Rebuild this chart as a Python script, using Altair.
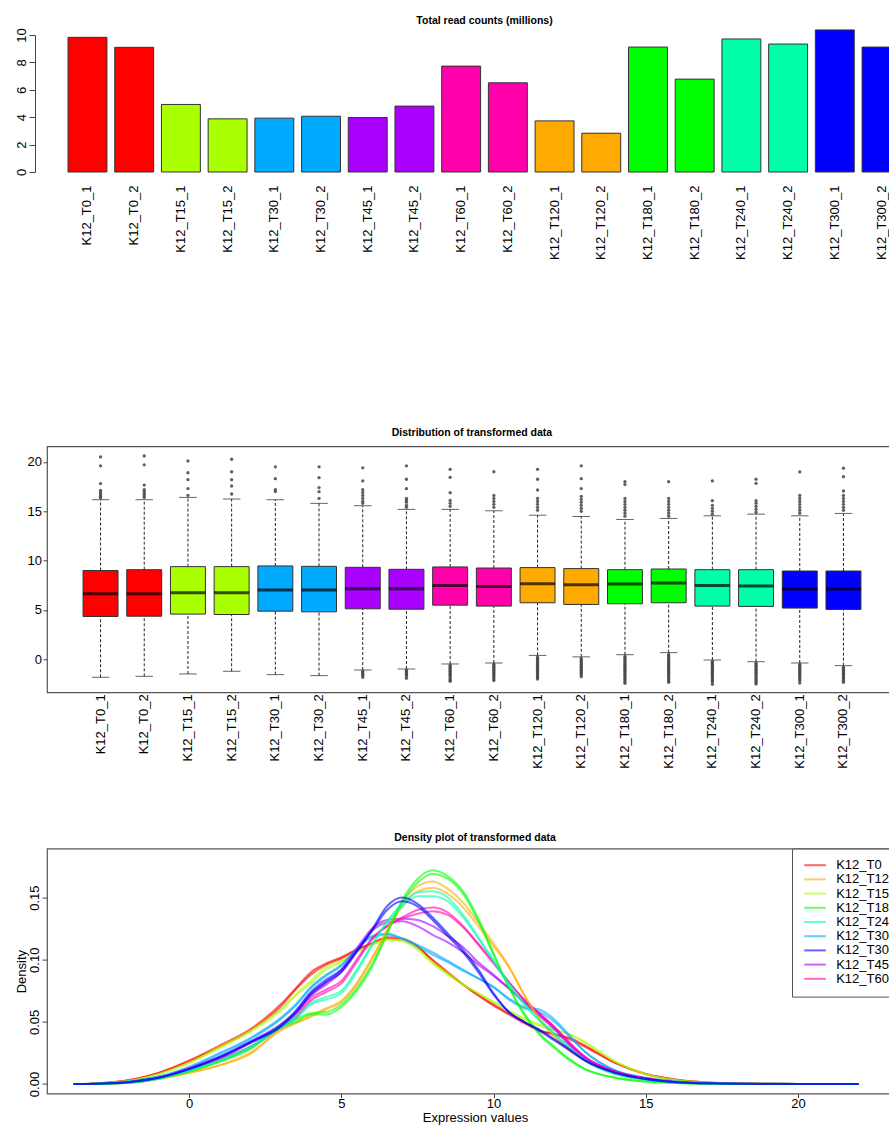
import altair as alt
import pandas as pd

FONT = "Liberation Sans"

samples = ["K12_T0_1", "K12_T0_2", "K12_T15_1", "K12_T15_2", "K12_T30_1", "K12_T30_2",
           "K12_T45_1", "K12_T45_2", "K12_T60_1", "K12_T60_2", "K12_T120_1", "K12_T120_2",
           "K12_T180_1", "K12_T180_2", "K12_T240_1", "K12_T240_2", "K12_T300_1", "K12_T300_2"]
sample_groups = ["K12_T0", "K12_T0", "K12_T15", "K12_T15", "K12_T30", "K12_T30",
                 "K12_T45", "K12_T45", "K12_T60", "K12_T60", "K12_T120", "K12_T120",
                 "K12_T180", "K12_T180", "K12_T240", "K12_T240", "K12_T300", "K12_T300"]
group_names = ["K12_T0", "K12_T120", "K12_T15", "K12_T180", "K12_T240",
               "K12_T30", "K12_T300", "K12_T45", "K12_T60"]
group_colors = ["#FF0000", "#FFAA00", "#AAFF00", "#00FF00", "#00FFAA",
                "#00AAFF", "#0000FF", "#AA00FF", "#FF00AA"]

# Panel 1: total read counts (millions)
read_counts = [9.83, 9.10, 4.93, 3.88, 3.93, 4.07, 3.98, 4.81, 7.73, 6.51,
               3.73, 2.83, 9.12, 6.78, 9.71, 9.34, 10.37, 9.12]

# Panel 2: boxplot statistics
box_q1 = [4.34, 4.37, 4.58, 4.54, 4.88, 4.81, 5.12, 5.08, 5.49, 5.39,
          5.73, 5.56, 5.63, 5.73, 5.39, 5.36, 5.19, 5.05]
box_median = [6.64, 6.64, 6.75, 6.75, 7.02, 7.02, 7.15, 7.15, 7.49, 7.39,
              7.66, 7.56, 7.63, 7.73, 7.49, 7.42, 7.12, 7.12]
box_q3 = [9.00, 9.08, 9.39, 9.39, 9.46, 9.42, 9.32, 9.12, 9.36, 9.25,
          9.29, 9.19, 9.08, 9.15, 9.08, 9.08, 8.95, 8.95]
box_whisker_low = [-1.82, -1.72, -1.48, -1.21, -1.55, -1.65, -1.08, -0.98, -0.47, -0.37,
                   0.40, 0.25, 0.47, 0.68, -0.07, -0.24, -0.37, -0.64]
box_whisker_high = [16.17, 16.17, 16.40, 16.24, 16.17, 15.80, 15.56, 15.19, 15.19, 15.05,
                    14.60, 14.47, 14.17, 14.27, 14.54, 14.71, 14.54, 14.78]
outliers_high = [
    [20.5, 19.6, 17.8, 17.1, 16.9, 16.7, 16.5, 16.35],
    [20.6, 19.7, 17.65, 17.2, 17.0, 16.8, 16.6, 16.4],
    [20.1, 18.9, 18.2, 17.3, 16.6],
    [20.27, 19.0, 18.2, 17.56, 16.75],
    [19.5, 18.3, 17.2, 17.0],
    [19.5, 18.4, 17.4, 16.98, 16.3],
    [19.4, 18.07, 17.2, 16.9, 16.6, 16.3, 16.0, 15.8],
    [19.6, 18.24, 17.29, 16.3, 16.1, 15.9, 15.6, 15.4],
    [19.25, 18.44, 16.88, 16.1, 15.8, 15.5],
    [19.0, 16.6, 16.3, 16.0, 15.7, 15.4],
    [19.25, 18.24, 17.15, 16.3, 16.0, 15.7, 15.4, 15.1],
    [19.6, 18.3, 17.3, 16.5, 16.2, 15.9, 15.6, 15.3, 15.0],
    [18.0, 17.7, 16.3, 16.0, 15.7, 15.4, 15.1, 14.8, 14.5],
    [18.0, 16.3, 16.0, 15.7, 15.4, 15.1, 14.8, 14.5],
    [18.07, 16.07, 15.6, 15.3, 15.0, 14.7],
    [18.24, 17.83, 16.07, 15.8, 15.5, 15.2, 14.9],
    [18.98, 16.6, 16.3, 16.0, 15.7, 15.4, 15.1, 14.8],
    [19.36, 18.5, 17.05, 16.6, 16.3, 16.0, 15.7, 15.4, 15.1],
]
outliers_low = [
    [], [], [], [], [], [],
    [-1.2, -1.35, -1.5, -1.65, -1.82],
    [-1.1, -1.25, -1.4, -1.55, -1.7, -1.92],
    [-0.6, -0.75, -0.9, -1.05, -1.2, -1.35, -1.5, -1.65, -1.8, -1.95, -2.1, -2.22],
    [-0.5, -0.65, -0.8, -0.95, -1.1, -1.25, -1.4, -1.55, -1.7, -1.85, -2.0, -2.15],
    [0.25, 0.1, -0.05, -0.2, -0.35, -0.5, -0.65, -0.8, -0.95, -1.1, -1.25, -1.4, -1.55, -1.7, -1.85, -1.99],
    [0.1, -0.05, -0.2, -0.35, -0.5, -0.65, -0.8, -0.95, -1.1, -1.25, -1.4, -1.55, -1.76],
    [0.3, 0.15, 0.0, -0.15, -0.3, -0.45, -0.6, -0.75, -0.9, -1.05, -1.2, -1.35, -1.5, -1.65, -1.8, -1.95, -2.1, -2.25, -2.43],
    [0.5, 0.35, 0.2, 0.05, -0.1, -0.25, -0.4, -0.55, -0.7, -0.85, -1.0, -1.15, -1.3, -1.45, -1.6, -1.75, -1.9, -2.05, -2.2, -2.33],
    [-0.2, -0.35, -0.5, -0.65, -0.8, -0.95, -1.1, -1.25, -1.4, -1.55, -1.7, -1.85, -2.0, -2.15, -2.3, -2.53],
    [-0.4, -0.55, -0.7, -0.85, -1.0, -1.15, -1.3, -1.45, -1.6, -1.75, -1.9, -2.05, -2.2, -2.35, -2.5],
    [-0.5, -0.65, -0.8, -0.95, -1.1, -1.25, -1.4, -1.55, -1.7, -1.85, -2.0, -2.15, -2.4],
    [-0.8, -0.95, -1.1, -1.25, -1.4, -1.55, -1.7, -1.85, -2.0, -2.15, -2.33],
]

# Panel 3: density curves
dens_x = [-3.8, -3, -2, -1, 0, 1, 2, 3, 3.5, 4, 4.5, 5, 5.5, 6, 6.5, 7, 7.5, 8, 8.5, 9,
          9.5, 10, 10.5, 11, 11.5, 12, 12.5, 13, 14, 15, 16, 17, 18, 20, 22]
dens_T0_1 = [0, 0.0005, 0.003, 0.009, 0.019, 0.031, 0.044, 0.064, 0.077, 0.090, 0.097, 0.102, 0.108, 0.113, 0.117, 0.116, 0.110, 0.100, 0.090, 0.080, 0.072, 0.064, 0.057, 0.050, 0.043, 0.040, 0.037, 0.031, 0.017, 0.008, 0.0035, 0.0013, 0.0005, 0.0001, 0]
dens_T0_2 = [0, 0.0005, 0.003, 0.009, 0.018, 0.030, 0.043, 0.062, 0.076, 0.088, 0.096, 0.101, 0.108, 0.113, 0.118, 0.117, 0.111, 0.099, 0.089, 0.080, 0.071, 0.063, 0.056, 0.049, 0.043, 0.040, 0.036, 0.030, 0.017, 0.008, 0.0035, 0.0013, 0.0005, 0.0001, 0]
dens_T15_1 = [0, 0.0004, 0.0025, 0.008, 0.017, 0.030, 0.043, 0.060, 0.072, 0.083, 0.094, 0.099, 0.106, 0.112, 0.116, 0.115, 0.108, 0.098, 0.089, 0.080, 0.073, 0.066, 0.059, 0.053, 0.048, 0.044, 0.040, 0.034, 0.018, 0.008, 0.003, 0.001, 0.0004, 0.0001, 0]
dens_T15_2 = [0, 0.0004, 0.0025, 0.008, 0.017, 0.029, 0.042, 0.059, 0.071, 0.081, 0.092, 0.098, 0.106, 0.112, 0.116, 0.116, 0.109, 0.097, 0.088, 0.080, 0.073, 0.066, 0.059, 0.052, 0.047, 0.043, 0.040, 0.033, 0.018, 0.008, 0.003, 0.001, 0.0004, 0.0001, 0]
dens_T30_1 = [0, 0.0003, 0.002, 0.006, 0.014, 0.025, 0.037, 0.053, 0.064, 0.078, 0.088, 0.096, 0.109, 0.119, 0.121, 0.117, 0.112, 0.106, 0.099, 0.092, 0.085, 0.078, 0.068, 0.061, 0.058, 0.050, 0.038, 0.026, 0.011, 0.005, 0.002, 0.0008, 0.0003, 0.0001, 0]
dens_T30_2 = [0, 0.0003, 0.002, 0.006, 0.013, 0.024, 0.036, 0.052, 0.063, 0.077, 0.087, 0.095, 0.108, 0.118, 0.120, 0.117, 0.111, 0.104, 0.098, 0.091, 0.085, 0.078, 0.069, 0.062, 0.060, 0.052, 0.039, 0.026, 0.011, 0.005, 0.002, 0.0008, 0.0003, 0.0001, 0]
dens_T45_1 = [0, 0.0003, 0.0015, 0.005, 0.013, 0.022, 0.034, 0.048, 0.058, 0.073, 0.082, 0.092, 0.109, 0.125, 0.132, 0.133, 0.132, 0.127, 0.119, 0.110, 0.098, 0.088, 0.077, 0.066, 0.055, 0.044, 0.031, 0.021, 0.010, 0.0045, 0.0015, 0.0006, 0.0002, 0, 0]
dens_T45_2 = [0, 0.0003, 0.0015, 0.005, 0.012, 0.021, 0.033, 0.047, 0.057, 0.071, 0.080, 0.090, 0.107, 0.123, 0.130, 0.131, 0.127, 0.120, 0.114, 0.106, 0.096, 0.087, 0.077, 0.066, 0.056, 0.045, 0.032, 0.021, 0.010, 0.0045, 0.0015, 0.0006, 0.0002, 0, 0]
dens_T60_1 = [0, 0.0002, 0.0012, 0.0045, 0.011, 0.019, 0.029, 0.045, 0.053, 0.067, 0.074, 0.081, 0.098, 0.116, 0.127, 0.134, 0.140, 0.142, 0.138, 0.127, 0.113, 0.098, 0.082, 0.068, 0.057, 0.046, 0.033, 0.022, 0.010, 0.0045, 0.0015, 0.0006, 0.0002, 0, 0]
dens_T60_2 = [0, 0.0002, 0.0012, 0.0045, 0.011, 0.020, 0.030, 0.046, 0.055, 0.069, 0.076, 0.083, 0.100, 0.117, 0.127, 0.133, 0.137, 0.139, 0.136, 0.126, 0.112, 0.097, 0.082, 0.068, 0.057, 0.046, 0.033, 0.022, 0.010, 0.0045, 0.0015, 0.0006, 0.0002, 0, 0]
dens_T120_1 = [0, 0.0002, 0.001, 0.004, 0.009, 0.015, 0.024, 0.044, 0.049, 0.054, 0.060, 0.066, 0.080, 0.100, 0.124, 0.146, 0.159, 0.163, 0.157, 0.146, 0.130, 0.113, 0.095, 0.072, 0.052, 0.038, 0.027, 0.019, 0.008, 0.0035, 0.0012, 0.0005, 0.0002, 0, 0]
dens_T120_2 = [0, 0.0002, 0.001, 0.004, 0.009, 0.015, 0.025, 0.043, 0.049, 0.055, 0.061, 0.067, 0.081, 0.101, 0.123, 0.143, 0.155, 0.158, 0.153, 0.142, 0.127, 0.111, 0.094, 0.072, 0.053, 0.039, 0.027, 0.019, 0.008, 0.0035, 0.0012, 0.0005, 0.0002, 0, 0]
dens_T180_1 = [0, 0.0002, 0.001, 0.0045, 0.010, 0.018, 0.028, 0.046, 0.050, 0.056, 0.056, 0.062, 0.075, 0.094, 0.121, 0.148, 0.165, 0.172, 0.167, 0.155, 0.133, 0.105, 0.078, 0.056, 0.040, 0.029, 0.019, 0.012, 0.005, 0.002, 0.0008, 0.0003, 0.0001, 0, 0]
dens_T180_2 = [0, 0.0002, 0.001, 0.0045, 0.010, 0.018, 0.029, 0.047, 0.052, 0.057, 0.058, 0.064, 0.077, 0.096, 0.121, 0.146, 0.162, 0.169, 0.165, 0.153, 0.131, 0.104, 0.078, 0.057, 0.041, 0.030, 0.020, 0.012, 0.005, 0.002, 0.0008, 0.0003, 0.0001, 0, 0]
dens_T240_1 = [0, 0.0002, 0.0012, 0.0045, 0.011, 0.019, 0.029, 0.045, 0.052, 0.064, 0.068, 0.073, 0.090, 0.111, 0.131, 0.145, 0.154, 0.155, 0.150, 0.136, 0.118, 0.099, 0.080, 0.064, 0.051, 0.040, 0.029, 0.019, 0.008, 0.0035, 0.0012, 0.0005, 0.0002, 0, 0]
dens_T240_2 = [0, 0.0002, 0.0012, 0.0045, 0.011, 0.019, 0.030, 0.046, 0.054, 0.065, 0.070, 0.075, 0.092, 0.112, 0.130, 0.143, 0.151, 0.151, 0.147, 0.134, 0.117, 0.099, 0.081, 0.065, 0.052, 0.041, 0.029, 0.019, 0.008, 0.0035, 0.0012, 0.0005, 0.0002, 0, 0]
dens_T300_1 = [0, 0.0003, 0.0015, 0.005, 0.012, 0.021, 0.033, 0.046, 0.057, 0.072, 0.082, 0.090, 0.106, 0.124, 0.143, 0.150, 0.145, 0.134, 0.121, 0.108, 0.092, 0.073, 0.058, 0.050, 0.043, 0.035, 0.027, 0.019, 0.009, 0.004, 0.0015, 0.0006, 0.0002, 0, 0]
dens_T300_2 = [0, 0.0003, 0.0015, 0.005, 0.012, 0.022, 0.034, 0.047, 0.059, 0.074, 0.084, 0.092, 0.107, 0.123, 0.140, 0.147, 0.143, 0.132, 0.119, 0.106, 0.090, 0.072, 0.058, 0.050, 0.044, 0.036, 0.028, 0.019, 0.009, 0.004, 0.0015, 0.0006, 0.0002, 0, 0]

density_series = [dens_T0_1, dens_T0_2, dens_T15_1, dens_T15_2, dens_T30_1, dens_T30_2,
                  dens_T45_1, dens_T45_2, dens_T60_1, dens_T60_2, dens_T120_1, dens_T120_2,
                  dens_T180_1, dens_T180_2, dens_T240_1, dens_T240_2, dens_T300_1, dens_T300_2]

# ---------------- tables ----------------
bars_df = pd.DataFrame({"sample": samples, "group": sample_groups, "reads": read_counts})
box_df = pd.DataFrame({"sample": samples, "group": sample_groups, "q1": box_q1,
                       "med": box_median, "q3": box_q3, "lo": box_whisker_low,
                       "hi": box_whisker_high})
out_rows = []
for s, hi_list, lo_list in zip(samples, outliers_high, outliers_low):
    for v in hi_list + lo_list:
        out_rows.append({"sample": s, "value": v})
out_df = pd.DataFrame(out_rows)
dens_rows = []
for s, g, ys in zip(samples, sample_groups, density_series):
    for xv, yv in zip(dens_x, ys):
        dens_rows.append({"sample": s, "group": g, "x": xv, "density": yv})
dens_df = pd.DataFrame(dens_rows)

color_scale = alt.Scale(domain=group_names, range=group_colors)


def panel_title(text, offset):
    return alt.TitleParams(text, font=FONT, fontSize=10.5, fontWeight="bold",
                           anchor="middle", offset=offset, color="black")


label_axis = dict(labelFont=FONT, labelFontSize=13, labelColor="black",
                  tickColor="#444", domainColor="#444", grid=False)

# ---------------- panel 1: bars ----------------
p1 = alt.Chart(bars_df).mark_bar(stroke="#333", strokeWidth=1).encode(
    x=alt.X("sample:N", sort=samples,
            scale=alt.Scale(paddingInner=0.1667, paddingOuter=0.45),
            axis=alt.Axis(title=" ", titlePadding=91.5, titleFontSize=13,
                          labelAngle=270, labelAlign="right", labelBaseline="middle",
                          labelPadding=13, ticks=False, domain=False, **label_axis)),
    y=alt.Y("reads:Q", scale=alt.Scale(domain=[0, 10], nice=False, zero=True),
            axis=alt.Axis(values=[0, 2, 4, 6, 8, 10], title=None, offset=12, tickSize=6,
                          labelAngle=270, labelAlign="center", labelBaseline="bottom",
                          labelPadding=1, **label_axis)),
    fill=alt.Fill("group:N", scale=color_scale, legend=None),
).properties(width=875, height=137, title=panel_title("Total read counts (millions)", 1.5),
             view=alt.ViewBackground(stroke="transparent"))

# ---------------- panel 2: boxplots ----------------
x_box = alt.X("sample:N", sort=samples,
              scale=alt.Scale(paddingInner=0.2, paddingOuter=0.825),
              axis=alt.Axis(title=None, labelAngle=270, labelAlign="right",
                            labelBaseline="middle", labelPadding=1.5, ticks=False,
                            domain=False, **label_axis))
y_scale2 = alt.Scale(domain=[-3.34, 21.58], nice=False, zero=False)
y_axis2 = alt.Axis(values=[0, 5, 10, 15, 20], title=None, tickSize=4, labelPadding=1.5,
                   domain=False, **label_axis)

box_base = alt.Chart(box_df).encode(x=x_box)
whisk_hi = box_base.mark_rule(color="#222", strokeWidth=1, strokeDash=[3, 2]).encode(
    y=alt.Y("q3:Q", scale=y_scale2, axis=y_axis2), y2="hi:Q")
whisk_lo = box_base.mark_rule(color="#222", strokeWidth=1, strokeDash=[3, 2]).encode(
    y=alt.Y("lo:Q", title=None), y2="q1:Q")
staple_hi = box_base.mark_tick(color="#222", size=17.5, thickness=1).encode(
    y=alt.Y("hi:Q", title=None))
staple_lo = box_base.mark_tick(color="#222", size=17.5, thickness=1).encode(
    y=alt.Y("lo:Q", title=None))
boxes = box_base.mark_bar(stroke="#333", strokeWidth=1).encode(
    y=alt.Y("q1:Q", title=None), y2="q3:Q",
    fill=alt.Fill("group:N", scale=color_scale, legend=None))
medians = box_base.mark_tick(color="black", size=35, thickness=3).encode(
    y=alt.Y("med:Q", title=None))
outl = alt.Chart(out_df).mark_circle(size=11, color="#444", opacity=0.85).encode(
    x=alt.X("sample:N", sort=samples), y=alt.Y("value:Q", title=None))

p2 = alt.layer(whisk_hi, whisk_lo, staple_hi, staple_lo, boxes, medians, outl).properties(
    width=850, height=246, title=panel_title("Distribution of transformed data", 7.7),
    view=alt.ViewBackground(stroke="#555", strokeWidth=1.2))

# ---------------- panel 3: densities ----------------
p3 = alt.Chart(dens_df).mark_line(strokeWidth=2, opacity=0.6, interpolate="monotone").encode(
    x=alt.X("x:Q", scale=alt.Scale(domain=[-4.67, 23.45], nice=False, zero=False),
            axis=alt.Axis(values=[0, 5, 10, 15, 20], title="Expression values",
                          titleFont=FONT, titleFontSize=13, titleFontWeight="normal",
                          titleColor="black", titlePadding=0.7, tickSize=4, labelPadding=0,
                          domain=False, **label_axis)),
    y=alt.Y("density:Q", scale=alt.Scale(domain=[-0.0077, 0.1894], nice=False, zero=False),
            axis=alt.Axis(values=[0, 0.05, 0.1, 0.15], format=".2f", title="Density",
                          titleFont=FONT, titleFontSize=13, titleFontWeight="normal",
                          titleColor="black", titlePadding=0, tickSize=5, labelPadding=1,
                          labelAngle=270, labelAlign="center", labelBaseline="bottom",
                          domain=False, **label_axis)),
    color=alt.Color("group:N", scale=color_scale,
                    legend=alt.Legend(title=None, orient="none", legendX=745, legendY=0,
                                      strokeColor="#555", fillColor="white", padding=10.1,
                                      symbolType="M-2.4,0H2.4", symbolSize=81,
                                      symbolOffset=6.5,
                                      symbolStrokeWidth=2, symbolOpacity=0.6,
                                      labelFont=FONT, labelFontSize=13, labelColor="black",
                                      labelOffset=14.6, rowPadding=0.2, labelLimit=300)),
    detail="sample:N",
).properties(width=856, height=245, title=panel_title("Density plot of transformed data", 5),
             view=alt.ViewBackground(stroke="#555", strokeWidth=1.2))

chart = alt.vconcat(p1, p2, p3, spacing=62.3).resolve_scale(color="independent").properties(
    autosize=alt.AutoSizeParams(type="none"),
    padding={"left": 47, "top": 35, "right": 842, "bottom": 1091},
).configure(background="white").configure_axis(grid=False)

chart.save("out.html", embed_options={"renderer": "svg", "actions": False})
